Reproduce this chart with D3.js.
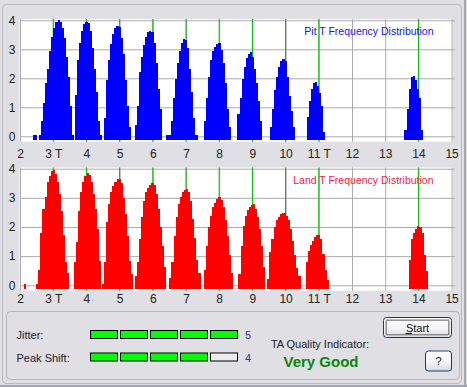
<!DOCTYPE html>
<html>
<head>
<meta charset="utf-8">
<script src="https://cdn.jsdelivr.net/npm/d3@7"></script>
<style>
  body { margin: 0; background: #e0dfe3; }
  svg { display: block; font-family: "Liberation Sans", Arial, sans-serif; }
</style>
</head>
<body>
<svg id="chart" width="467" height="387"></svg>
<script>
// ticks y etiquetas
const tTicks = [2, 3, 4, 5, 6, 7, 8, 9, 10, 11, 12, 13, 14, 15];
const tLabels = ["2", "3 T", "4", "5", "6", "7", "8", "9", "10", "11 T", "12", "13", "14", "15"];
const yTicks = [0, 1, 2, 3, 4];
const markT = [3, 4, 5, 6, 7, 8, 9, 10, 11, 14];
const binStep = 0.0625;

// Pit: inicio de cada pico (en T) y alturas de cada bin
const pitStart = [2.38, 3.66, 4.53, 5.46, 6.41, 7.54, 8.55, 9.53, 10.63, 13.58];
const pitBins = [
  [0, 0, null, 0, 0.5, 1.1, 1.8, 2.3, 2.9, 3.4, 3.7, 3.92, 3.98, 3.9, 3.7, 3.35, 2.7, 2.0, 1.0, 0],
  [1.4, 2.6, 3.2, 3.6, 3.85, 3.92, 3.88, 3.6, 3.0, 2.3, 1.5, 0.5, 0],
  [0.6, 1.9, 2.6, 3.15, 3.5, 3.7, 3.78, 3.72, 3.35, 2.8, 1.9, 1.0, 0.3],
  [0.35, 1.0, 2.2, 2.7, 3.1, 3.4, 3.55, 3.6, 3.55, 3.2, 2.5, 1.6, 0.9],
  [0, 0, 0.5, 1.3, 1.95, 2.5, 2.9, 3.2, 3.33, 3.3, 3.0, 2.3, 1.5, 0.6, 0],
  [0.5, 1.3, 2.0, 2.6, 2.9, 3.05, 3.15, 3.17, 2.95, 2.5, 1.8, 0.9, 0.3],
  [0.75, 1.3, 1.95, 2.35, 2.65, 2.82, 2.88, 2.7, 2.3, 1.8, 1.2, 0.5],
  [0.3, 0.9, 1.55, 2.0, 2.35, 2.55, 2.62, 2.55, 2.0, 1.35, 0.85, 0.3],
  [0.62, 1.2, 1.6, 1.8, 1.84, 1.7, 1.45, 1.0, 0.1],
  [0.2, 0.9, 1.6, 2.0, 2.05, 1.9, 1.6, 1.3, 0.2]
];

// Land
const landStart = [2.12, 2.49, 3.63, 4.47, 5.46, 6.50, 7.54, 8.58, 9.45, 10.61, 13.72];
const landBins = [
  [0],
  [0, 0.5, 1.75, 2.6, 3.0, 3.5, 3.72, 3.88, 3.93, 3.8, 3.5, 3.1, 2.5, 1.7, 0.75, 0.4],
  [0.75, 1.45, 2.5, 3.15, 3.5, 3.72, 3.82, 3.75, 3.5, 3.1, 2.6, 1.9, 0.8],
  [0, 0.75, 2.15, 2.75, 3.15, 3.38, 3.52, 3.6, 3.6, 3.48, 2.95, 2.4, 1.65, 0.8, 0.35],
  [0.3, 0.75, 1.55, 2.3, 2.85, 3.15, 3.3, 3.4, 3.46, 3.4, 3.1, 2.6, 1.95, 1.3, 0.6],
  [0.2, 0.75, 1.65, 2.3, 2.75, 3.0, 3.15, 3.25, 3.27, 3.15, 2.85, 2.25, 1.6, 0.85, 0.4],
  [0.5, 1.3, 1.95, 2.35, 2.65, 2.8, 2.93, 2.98, 2.9, 2.65, 2.2, 1.65, 1.0, 0.4],
  [0.35, 1.3, 2.0, 2.35, 2.55, 2.65, 2.72, 2.74, 2.6, 2.3, 1.9, 1.3, 0.6],
  [0.18, 1.1, 1.55, 1.95, 2.2, 2.3, 2.4, 2.45, 2.45, 2.35, 2.2, 1.9, 1.5, 1.0, 0.55, 0.3],
  [0.75, 1.15, 1.35, 1.5, 1.62, 1.7, 1.7, 1.55, 1.05, 0.5, 0.15],
  [0.85, 1.55, 1.75, 1.9, 1.99, 1.95, 1.75, 1.0, 0.45]
];

const jitterLevel = 5;
const peakShiftLevel = 4;
const levelMax = 5;
const qualityText = "Very Good";

const svg = d3.select("#chart");

// marco exterior
svg.append("rect").attr("x", 2.5).attr("y", 4.5).attr("width", 459).attr("height", 379)
  .attr("rx", 4).attr("fill", "none").attr("stroke", "#b9b9c1");
svg.append("line").attr("x1", 465).attr("x2", 465).attr("y1", 0).attr("y2", 387)
  .attr("stroke", "#a4a4ac").attr("stroke-width", 2);
svg.append("line").attr("x1", 0).attr("x2", 467).attr("y1", 386).attr("y2", 386)
  .attr("stroke", "#a4a4ac").attr("stroke-width", 2);

let x = d3.scaleLinear().domain([2, 15]).range([20, 451.6]);

function graficar(starts, bins, color, title, titleColor, yRange, wTop, wBot, titleY, labelY) {
  let y = d3.scaleLinear().domain([0, 4]).range(yRange);
  let g = svg.append("g");

  g.append("rect")
    .attr("x", 19.5).attr("y", wTop)
    .attr("width", 453 - 19.5).attr("height", wBot - wTop)
    .attr("fill", "#ffffff");

  // lineas horizontales + etiquetas y
  let yAxis = g.append("g")
    .attr("transform", "translate(20,0)")
    .call(d3.axisLeft(y).tickValues(yTicks).tickSize(-435).tickPadding(4.5).tickFormat(d3.format("d")));
  yAxis.select(".domain").remove();
  yAxis.selectAll("line").attr("stroke", "#aaaaaa");
  yAxis.selectAll("text").attr("font-size", 12).attr("fill", "#222").attr("font-family", null);

  // lineas verticales
  let vAxis = g.append("g")
    .attr("transform", `translate(0,${wTop})`)
    .call(d3.axisTop(x).tickValues(tTicks).tickSize(-(wBot - wTop)).tickFormat(""));
  vAxis.select(".domain").remove();
  vAxis.selectAll("line").attr("stroke", "#aaaaaa");

  // lineas verdes
  g.selectAll(".mark")
    .data(markT)
    .enter()
    .append("line")
    .attr("x1", (d) => x(d)).attr("x2", (d) => x(d))
    .attr("y1", wTop).attr("y2", wBot)
    .attr("stroke", "#00b800");

  // un trazo escalonado por pico
  let series = starts.map((s, p) => {
    let pts = [];
    bins[p].forEach((v, i) => {
      let t = s + i * binStep;
      let prev = pts.length ? pts[pts.length - 1] : null;
      if (!(v > 0) && prev && prev.v > 0) pts.push({ t: t, v: prev.v });
      pts.push({ t: t, v: v || 0, hueco: v === null });
    });
    let last = pts[pts.length - 1];
    if (last.v > 0) pts.push({ t: last.t + binStep, v: last.v, cierre: true });
    return pts;
  });

  let area = d3.area()
    .curve(d3.curveStepAfter)
    .defined((d) => d.v > 0)
    .x((d) => Math.round(x(d.t)))
    .y0(Math.round(y(0)) + 1)
    .y1((d) => Math.round(y(d.v)) - 1);

  g.selectAll(".peak")
    .data(series)
    .enter()
    .append("path")
    .attr("d", area)
    .attr("fill", color)
    .attr("shape-rendering", "crispEdges");

  // marcadores en la base
  let base = [];
  starts.forEach((s, p) => {
    bins[p].forEach((v, i) => {
      if (v !== null) base.push(s + i * binStep);
    });
  });

  g.selectAll(".base")
    .data(base)
    .enter()
    .append("rect")
    .attr("x", (d) => Math.round(x(d)))
    .attr("width", (d) => Math.round(x(d + binStep)) - Math.round(x(d)) - 0.5)
    .attr("y", Math.round(y(0)) - 1)
    .attr("height", 5)
    .attr("fill", color)
    .attr("shape-rendering", "crispEdges");

  // etiquetas x
  let xAxis = g.append("g")
    .attr("transform", `translate(0,${labelY})`)
    .call(d3.axisBottom(x).tickValues(tTicks).tickSize(0).tickPadding(0)
      .tickFormat((d, i) => tLabels[i]));
  xAxis.select(".domain").remove();
  xAxis.selectAll("text").attr("font-size", 12).attr("fill", "#222")
    .attr("font-family", null).attr("y", 0).attr("dy", null);

  g.append("text")
    .attr("x", 433.5).attr("y", titleY)
    .attr("text-anchor", "end")
    .attr("font-size", 10.5)
    .attr("fill", titleColor)
    .text(title);
}

graficar(pitStart, pitBins, "#0000ff", "Pit T Frequency Distribution", "#1010ff",
  [136.3, 20.3], 19, 141.7, 34.5, 158);
graficar(landStart, landBins, "#ff0000", "Land T Frequency Distribution", "#f5204a",
  [285.3, 168.7], 167.5, 290.7, 183.5, 303);

// panel inferior
svg.append("rect").attr("x", 6.5).attr("y", 311.5).attr("width", 453).attr("height", 68)
  .attr("rx", 4).attr("fill", "none").attr("stroke", "#b4b4bc");

const filas = [
  { label: "Jitter:", level: jitterLevel, y: 330.5, base: 338.5 },
  { label: "Peak Shift:", level: peakShiftLevel, y: 353, base: 361.5 }
];

filas.forEach((f) => {
  svg.append("text").attr("x", 16.5).attr("y", f.base)
    .attr("font-size", 11).attr("fill", "#1c1c2c").text(f.label);
  svg.selectAll(null)
    .data(d3.range(levelMax))
    .enter()
    .append("rect")
    .attr("x", (d) => 90.5 + d * 30)
    .attr("y", f.y)
    .attr("width", 27)
    .attr("height", 8)
    .attr("fill", (d) => d < f.level ? "#00ff00" : "#ececec")
    .attr("stroke", "#000");
  svg.append("text").attr("x", 245).attr("y", f.base)
    .attr("font-size", 11).attr("fill", "#3232b4").text(f.level);
});

svg.append("text").attr("x", 320).attr("y", 347.5).attr("text-anchor", "middle")
  .attr("font-size", 11).attr("fill", "#1c1c2c").text("TA Quality Indicator:");
svg.append("text").attr("x", 321).attr("y", 367).attr("text-anchor", "middle")
  .attr("font-size", 15).attr("font-weight", "bold").attr("fill", "#0a850a").text(qualityText);

// botones
let defs = svg.append("defs");
let grad = defs.append("linearGradient").attr("id", "btn").attr("x1", 0).attr("x2", 0).attr("y1", 0).attr("y2", 1);
grad.append("stop").attr("offset", "0%").attr("stop-color", "#ffffff");
grad.append("stop").attr("offset", "60%").attr("stop-color", "#f2f2f4");
grad.append("stop").attr("offset", "100%").attr("stop-color", "#d8d8e0");

svg.append("rect").attr("x", 383.5).attr("y", 317.5).attr("width", 68).attr("height", 20)
  .attr("rx", 3).attr("fill", "url(#btn)").attr("stroke", "#1a3a70");
svg.append("rect").attr("x", 385.5).attr("y", 319.5).attr("width", 64).attr("height", 16)
  .attr("rx", 1).attr("fill", "none").attr("stroke", "#a8c0e8");
svg.append("rect").attr("x", 386.5).attr("y", 320.5).attr("width", 62).attr("height", 14)
  .attr("fill", "none").attr("stroke", "#333").attr("stroke-dasharray", "1,1");
svg.append("text").attr("x", 417.5).attr("y", 331.5).attr("text-anchor", "middle")
  .attr("font-size", 11).attr("fill", "#111").text("Start");
svg.append("line").attr("x1", 405.5).attr("x2", 412).attr("y1", 333.5).attr("y2", 333.5)
  .attr("stroke", "#111");

svg.append("rect").attr("x", 425.5).attr("y", 351).attr("width", 26).attr("height", 20)
  .attr("rx", 3).attr("fill", "url(#btn)").attr("stroke", "#1a3a70");
svg.append("text").attr("x", 438.5).attr("y", 365).attr("text-anchor", "middle")
  .attr("font-size", 11).attr("fill", "#111").text("?");
</script>
</body>
</html>
